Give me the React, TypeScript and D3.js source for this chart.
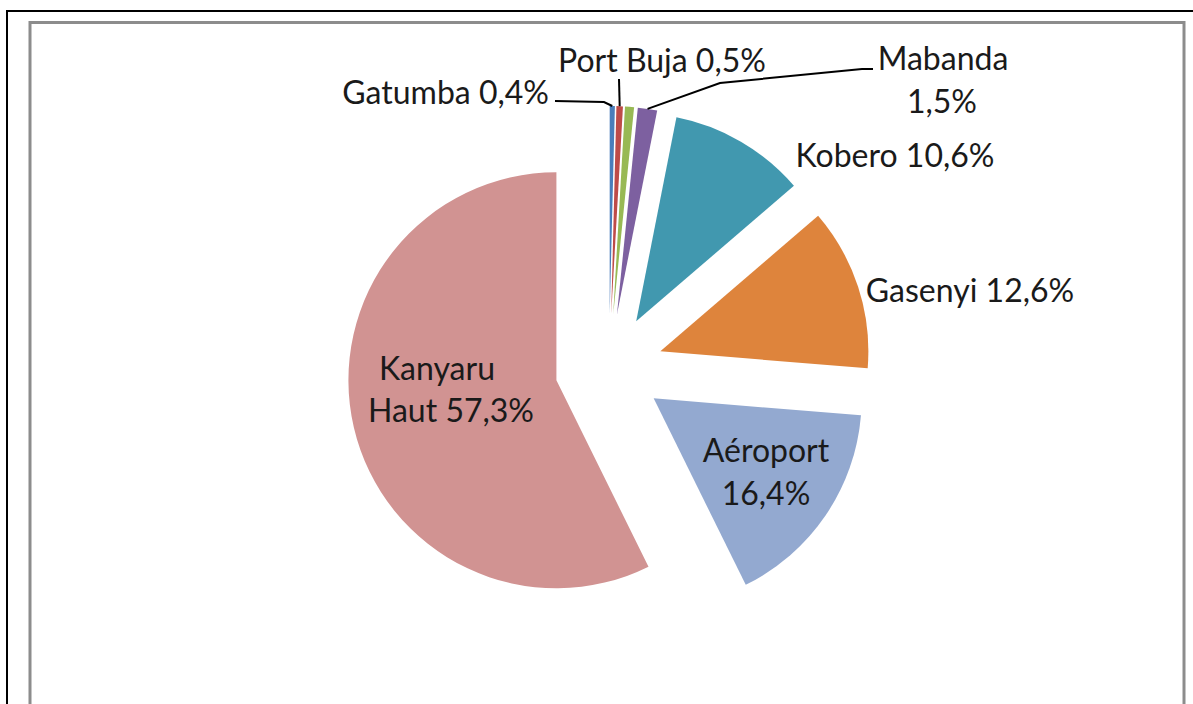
import { useRef, useEffect } from 'react';
import * as d3 from 'd3';

// données du graphique (parts en %)
const categories = ['Gatumba', 'Port Buja', '', 'Mabanda', 'Kobero', 'Gasenyi', 'Aéroport', 'Kanyaru Haut'];
const values = [0.4, 0.5, 0.7, 1.5, 10.6, 12.6, 16.4, 57.3];
const colors = ['#4a7ebb', '#be4b48', '#98b954', '#7d60a0', '#4198af', '#de843c', '#93a9d0', '#d19392'];

// disposition des étiquettes (texte + position)
const labelLayout = [
    { i: 0, lines: [{ t: 'Gatumba 0,4%', x: 549, y: 92, anchor: 'end' }], leader: [[604, 102], [555, 101]] },
    { i: 1, lines: [{ t: 'Port Buja 0,5%', x: 662, y: 60, anchor: 'middle' }], leader: [[619, 79]] },
    { i: 3, lines: [{ t: 'Mabanda', x: 943, y: 58, anchor: 'middle' }, { t: '1,5%', x: 942, y: 101, anchor: 'middle' }], leader: [[720, 83], [862, 69], [873, 69]] },
    { i: 4, lines: [{ t: 'Kobero 10,6%', x: 895, y: 155, anchor: 'middle' }], leader: null },
    { i: 5, lines: [{ t: 'Gasenyi 12,6%', x: 970, y: 290, anchor: 'middle' }], leader: null },
    { i: 6, lines: [{ t: 'Aéroport', x: 766, y: 450, anchor: 'middle' }, { t: '16,4%', x: 766, y: 493, anchor: 'middle' }], leader: null },
    { i: 7, lines: [{ t: 'Kanyaru', x: 437, y: 368, anchor: 'middle' }, { t: 'Haut 57,3%', x: 451, y: 410, anchor: 'middle' }], leader: null },
];

export default function App() {
    const svgRef = useRef<SVGSVGElement>(null);

    useEffect(() => {
        const width = 1193;
        const height = 704;
        const cx = 609;
        const cy = 368;
        const radius = 208;
        const explode = 54;

        const svg = d3.select(svgRef.current)
            .attr('width', width)
            .attr('height', height)
            .html('');

        svg.append('rect').attr('width', width).attr('height', height).attr('fill', '#fff');

        // cadre extérieur noir
        svg.append('rect')
            .attr('x', 7).attr('y', 11)
            .attr('width', 1200).attr('height', 720)
            .attr('fill', 'none').attr('stroke', '#000').attr('stroke-width', 2);

        // cadre intérieur gris
        svg.append('rect')
            .attr('x', 30).attr('y', 22.5)
            .attr('width', 1154).attr('height', 720)
            .attr('fill', 'none').attr('stroke', '#8c8c8c').attr('stroke-width', 3);

        const pie = d3.pie<number>().sort(null).startAngle(0).endAngle(2 * Math.PI);
        const arcs = pie(values);
        const arc = d3.arc<d3.PieArcDatum<number>>().innerRadius(0).outerRadius(radius);

        const g = svg.append('g').attr('transform', `translate(${cx},${cy})`);

        // secteurs éclatés
        g.selectAll('path.slice')
            .data(arcs)
            .enter()
            .append('path')
            .attr('class', 'slice')
            .attr('d', arc)
            .attr('fill', (d, i) => colors[i])
            .attr('transform', d => {
                const mid = (d.startAngle + d.endAngle) / 2;
                return `translate(${Math.sin(mid) * explode},${-Math.cos(mid) * explode})`;
            });

        // lignes de rappel
        labelLayout.forEach(l => {
            if (!l.leader) return;
            const d = arcs[l.i];
            const mid = (d.startAngle + d.endAngle) / 2;
            const start: [number, number] = [
                cx + Math.sin(mid) * (radius + explode),
                cy - Math.cos(mid) * (radius + explode),
            ];
            const pts = [start, ...(l.leader as [number, number][])];
            svg.append('path')
                .attr('d', d3.line()(pts))
                .attr('fill', 'none')
                .attr('stroke', '#000')
                .attr('stroke-width', 2);
        });

        // étiquettes
        labelLayout.forEach(l => {
            l.lines.forEach(line => {
                svg.append('text')
                    .attr('x', line.x)
                    .attr('y', line.y)
                    .attr('dy', '0.36em')
                    .attr('text-anchor', line.anchor)
                    .attr('font-family', 'Lato, "Open Sans", sans-serif')
                    .attr('font-size', '32px')
                    .attr('fill', '#1a1a1a')
                    .text(line.t);
            });
        });
    }, []);

    return (
        <svg ref={svgRef} style={{ position: 'absolute', left: 0, top: 0, display: 'block' }}></svg>
    );
}
